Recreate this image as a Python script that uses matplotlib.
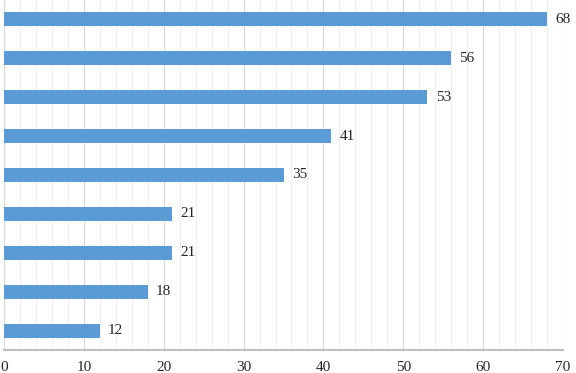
import matplotlib.pyplot as plt
from matplotlib.ticker import MultipleLocator

# values, bottom to top
categories = ['c1', 'c2', 'c3', 'c4', 'c5', 'c6', 'c7', 'c8', 'c9']
values = [12, 18, 21, 21, 35, 41, 53, 56, 68]
x_ticks = [0, 10, 20, 30, 40, 50, 60, 70]

plt.rcParams['font.family'] = ['Liberation Serif', 'DejaVu Serif']

fig = plt.figure(figsize=(5.76, 3.73), dpi=100)
ax = fig.add_axes([4 / 576, 23 / 373, 559 / 576, 350 / 373])

ypos = range(len(categories))
ax.barh(ypos, values, height=0.36, color='#5B9BD5', zorder=3)

for y, v in zip(ypos, values):
    ax.annotate(str(v), (v, y), xytext=(6, 0), textcoords='offset points',
                va='center', ha='left', fontsize=11, color='#262626',
                annotation_clip=False)

ax.set_xlim(0, 70)
ax.set_ylim(-0.5, len(categories) - 0.5)
ax.set_xticks(x_ticks)
ax.set_xticklabels([str(t) for t in x_ticks], fontsize=11, color='#262626')
ax.xaxis.set_minor_locator(MultipleLocator(2))
ax.set_yticks([])
ax.grid(axis='x', which='major', color='#D9D9D9', linewidth=0.8, zorder=0)
ax.grid(axis='x', which='minor', color='#EFEFEF', linewidth=0.8, zorder=0)
ax.tick_params(axis='x', which='both', length=0, pad=8)

for s in ['top', 'right']:
    ax.spines[s].set_visible(False)
ax.spines['bottom'].set_color('#BFBFBF')
ax.spines['bottom'].set_linewidth(1.5)
ax.spines['left'].set_color('#D9D9D9')
ax.spines['left'].set_linewidth(0.8)

fig.savefig('out.png', dpi=100)
